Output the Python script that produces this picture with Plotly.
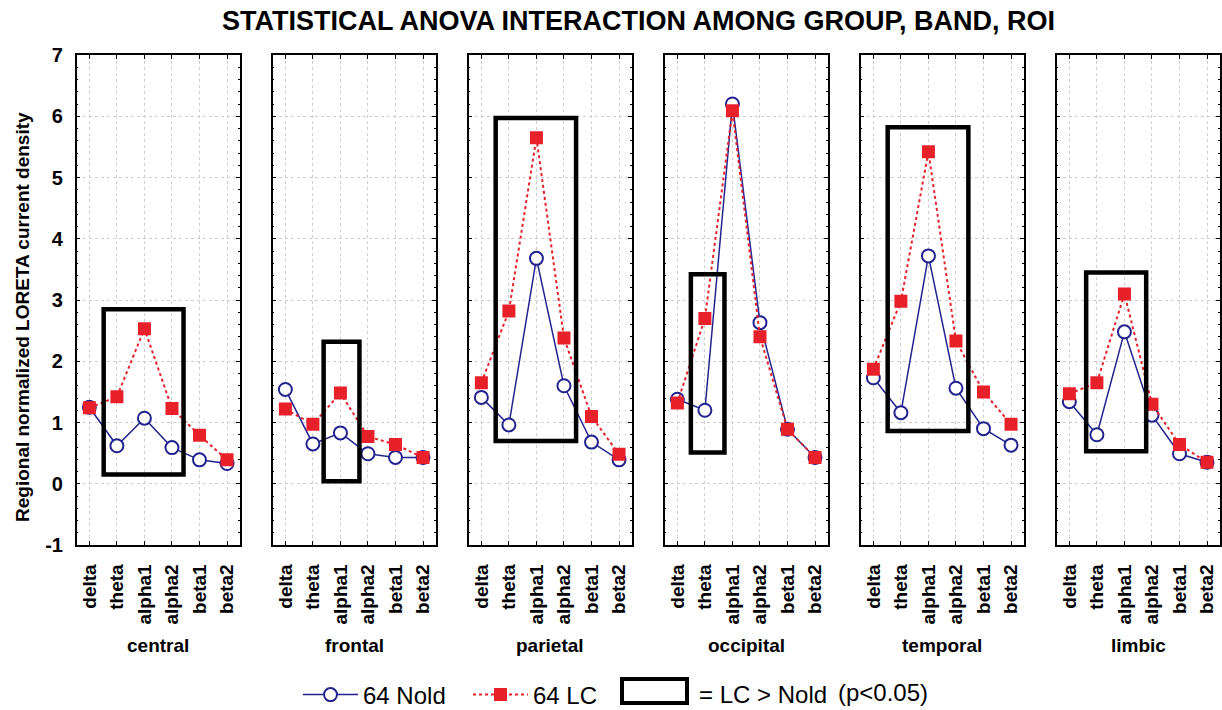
import plotly.graph_objects as go

bands = ["delta", "theta", "alpha1", "alpha2", "beta1", "beta2"]
rois = ["central", "frontal", "parietal", "occipital", "temporal", "limbic"]

nold = {
    "central":   [1.25, 0.62, 1.07, 0.59, 0.39, 0.33],
    "frontal":   [1.54, 0.65, 0.83, 0.49, 0.43, 0.43],
    "parietal":  [1.41, 0.96, 3.68, 1.60, 0.68, 0.39],
    "occipital": [1.38, 1.20, 6.20, 2.63, 0.89, 0.43],
    "temporal":  [1.73, 1.16, 3.72, 1.56, 0.90, 0.63],
    "limbic":    [1.34, 0.80, 2.48, 1.12, 0.49, 0.35],
}
lc = {
    "central":   [1.24, 1.42, 2.53, 1.23, 0.79, 0.39],
    "frontal":   [1.22, 0.97, 1.48, 0.77, 0.64, 0.43],
    "parietal":  [1.65, 2.82, 5.65, 2.38, 1.10, 0.48],
    "occipital": [1.32, 2.70, 6.09, 2.40, 0.89, 0.43],
    "temporal":  [1.87, 2.98, 5.42, 2.33, 1.50, 0.97],
    "limbic":    [1.47, 1.65, 3.10, 1.30, 0.64, 0.35],
}
# significance boxes (band-index units, value units)
box_x0 = [0.52, 1.39, 0.52, 0.49, 0.52, 0.61]
box_x1 = [3.42, 2.69, 3.44, 1.71, 3.45, 2.79]
box_y0 = [0.15, 0.04, 0.70, 0.51, 0.86, 0.53]
box_y1 = [2.85, 2.32, 5.97, 3.42, 5.82, 3.45]

y_ticks = [-1, 0, 1, 2, 3, 4, 5, 6, 7]
y_ticktext = ["-1", "0", "1", "2", "3", "4", "5", "6", "7"]

W, H = 1222, 710
FONT = "Liberation Sans, Arial, sans-serif"
BLUE = "#23238f"
RED = "#e8202a"

fig = go.Figure()
left0, step, pw = 76.7, 196.0, 163.0
ytop, ybot = 55.0, 545.0

for i, roi in enumerate(rois):
    xa = "x" if i == 0 else f"x{i+1}"
    ya = "y" if i == 0 else f"y{i+1}"
    fig.add_trace(go.Scatter(
        x=list(range(len(bands))), y=nold[roi], xaxis=xa, yaxis=ya,
        mode="lines+markers", name="64 Nold", showlegend=(i == 0),
        line=dict(color=BLUE, width=1.5),
        marker=dict(symbol="circle", size=13, color="white", line=dict(color=BLUE, width=2)),
    ))
    fig.add_trace(go.Scatter(
        x=list(range(len(bands))), y=lc[roi], xaxis=xa, yaxis=ya,
        mode="lines+markers", name="64 LC", showlegend=(i == 0),
        line=dict(color=RED, width=2, dash="dot"),
        marker=dict(symbol="square", size=13, color=RED),
    ))
    fig.add_shape(type="rect", xref=xa, yref=ya,
                  x0=box_x0[i], x1=box_x1[i], y0=box_y0[i], y1=box_y1[i],
                  line=dict(color="black", width=4.5), fillcolor="rgba(0,0,0,0)")
    l = left0 + i * step
    fig.layout[("xaxis" if i == 0 else f"xaxis{i+1}")] = dict(
        domain=[l / W, (l + pw) / W], anchor=ya, range=[-0.46, 5.46],
        tickvals=list(range(len(bands))), ticktext=bands, tickangle=-90,
        ticks="inside", ticklen=4, tickcolor="black", mirror="allticks",
        showline=True, linecolor="black", linewidth=1.5,
        showgrid=True, gridcolor="#cfcfcf", griddash="dot", gridwidth=1,
        zeroline=False, automargin=False, ticklabelstandoff=10,
        tickfont=dict(family=FONT, size=19, color="black", weight="bold"),
    )
    fig.layout[("yaxis" if i == 0 else f"yaxis{i+1}")] = dict(
        domain=[1 - ybot / H, 1 - ytop / H], anchor=xa, range=[-1, 7],
        tickvals=y_ticks, ticktext=y_ticktext, showticklabels=(i == 0),
        ticks="inside", ticklen=4, tickcolor="black", mirror="allticks",
        minor=dict(dtick=0.2, ticks="inside", ticklen=2, tickcolor="black", showgrid=False),
        showline=True, linecolor="black", linewidth=1.5,
        showgrid=True, gridcolor="#cfcfcf", griddash="dot", gridwidth=1,
        zeroline=False, automargin=False, ticklabelstandoff=8,
        tickfont=dict(family=FONT, size=20, color="black", weight="bold"),
    )
    fig.add_annotation(text=roi, xref=f"{xa} domain", yref="paper",
                       x=0.5, y=1 - 645 / H, xanchor="center", yanchor="middle", showarrow=False,
                       font=dict(family=FONT, size=19, color="black", weight="bold"))

fig.add_annotation(text="Regional normalized LORETA current density", textangle=-90,
                   xref="paper", yref="paper", x=22 / W, y=1 - 317 / H,
                   xanchor="center", yanchor="middle", showarrow=False,
                   font=dict(family=FONT, size=19, color="black", weight="bold"))

fig.add_annotation(text="<b>STATISTICAL ANOVA INTERACTION AMONG GROUP, BAND, ROI</b>",
                   xref="paper", yref="paper", x=638 / W, y=1 - 21 / H,
                   xanchor="center", yanchor="middle", showarrow=False,
                   font=dict(family=FONT, size=27, color="black"))

# legend extras
fig.add_shape(type="rect", xref="paper", yref="paper",
              x0=622 / W, x1=687 / W, y0=1 - 703 / H, y1=1 - 679 / H,
              line=dict(color="black", width=4), fillcolor="rgba(0,0,0,0)")
fig.add_annotation(text="= LC &gt; Nold", xref="paper", yref="paper", x=697 / W, y=1 - 694 / H,
                   xanchor="left", yanchor="middle", showarrow=False,
                   font=dict(family=FONT, size=24, color="black"))
fig.add_annotation(text="(p&lt;0.05)", xref="paper", yref="paper", x=836 / W, y=1 - 692 / H,
                   xanchor="left", yanchor="middle", showarrow=False,
                   font=dict(family=FONT, size=24, color="black"))

fig.update_layout(
    width=W, height=H, margin=dict(l=0, r=0, t=0, b=0, autoexpand=False),
    paper_bgcolor="white", plot_bgcolor="white",
    showlegend=True,
    legend=dict(orientation="h", x=298 / W, y=1 - 695 / H, xanchor="left", yanchor="middle",
                font=dict(family=FONT, size=24, color="black"), bgcolor="rgba(0,0,0,0)",
                itemwidth=55, entrywidth=100, tracegroupgap=0),
)

fig.write_html("out.html")
